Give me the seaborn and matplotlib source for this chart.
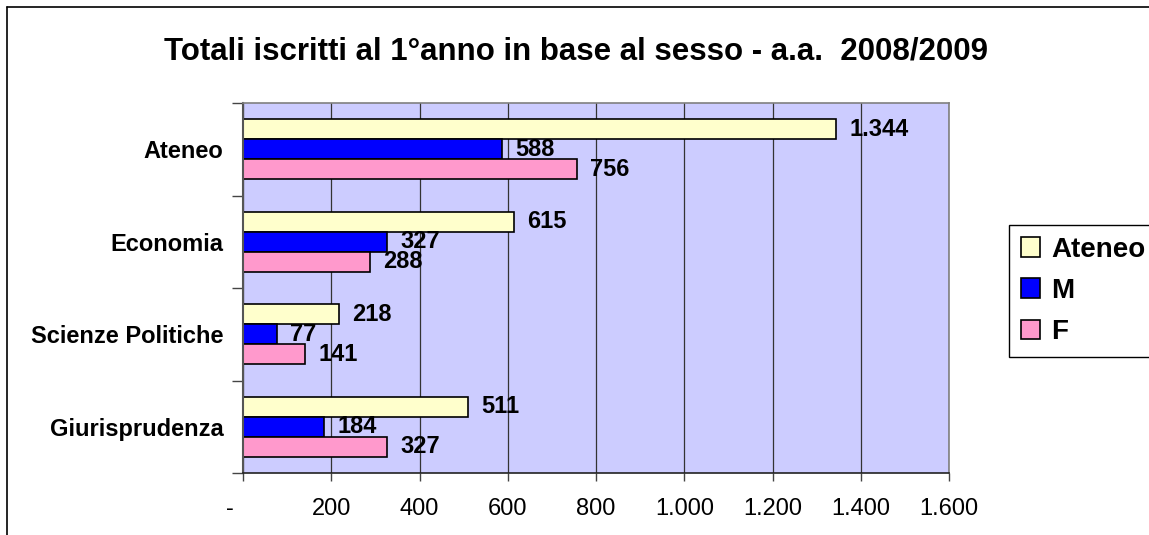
import numpy as np
import pandas as pd
import matplotlib
matplotlib.use("Agg")
import matplotlib.pyplot as plt
import seaborn as sns
from matplotlib.patches import Patch
from matplotlib.lines import Line2D
from matplotlib.ticker import FuncFormatter

# Data
categorie = ["Ateneo", "Economia", "Scienze Politiche", "Giurisprudenza"]
serie = ["Ateneo", "M", "F"]
totale = [1344, 615, 218, 511]
maschi = [588, 327, 77, 184]
femmine = [756, 288, 141, 327]
colori = ["#FFFFCC", "#0000FF", "#FF99CC"]
x_ticks = [0, 200, 400, 600, 800, 1000, 1200, 1400, 1600]

df = pd.DataFrame({
    "Facolta": categorie * 3,
    "Serie": [s for s in serie for _ in categorie],
    "Iscritti": totale + maschi + femmine,
})

sns.set_style("white")
plt.rcParams["font.family"] = ["Liberation Sans", "DejaVu Sans"]
plt.rcParams["text.color"] = "black"
plt.rcParams["xtick.color"] = "black"
plt.rcParams["ytick.color"] = "black"
plt.rcParams["axes.labelcolor"] = "black"


def punto_migliaia(v, pos=None):
    if v == 0:
        return "-    "
    return f"{v:,.0f}".replace(",", ".")


W, H = 1149, 535
fig = plt.figure(figsize=(W / 100, H / 100), dpi=100)
ax = fig.add_axes([243 / W, 1 - 473 / H, (949 - 243) / W, (473 - 103) / H])
ax.set_facecolor("#CCCCFF")

sns.barplot(
    data=df,
    y="Facolta",
    x="Iscritti",
    hue="Serie",
    hue_order=serie,
    order=categorie,
    palette=colori,
    orient="h",
    width=0.65,
    edgecolor="black",
    linewidth=1.2,
    saturation=1,
    legend=False,
    ax=ax,
)

for cont in ax.containers:
    ax.bar_label(cont, fmt=lambda v: f"{v:,.0f}".replace(",", "."),
                 padding=9.5, fontsize=17, fontweight="bold", color="black")

# Axes
ax.set_xlim(0, 1600)
ax.set_ylim(3.5, -0.5)
ax.set_xticks(x_ticks)
ax.xaxis.set_major_formatter(FuncFormatter(punto_migliaia))
ax.set_xlabel("")
ax.set_ylabel("")
ax.set_axisbelow(True)
ax.grid(axis="x", color="#333333", linewidth=0.9)
ax.grid(axis="y", visible=False)

ax.set_yticks([-0.5, 0.5, 1.5, 2.5, 3.5], minor=True)
ax.tick_params(axis="y", which="major", length=0, pad=14, labelsize=17, labelcolor="black")
ax.tick_params(axis="y", which="minor", length=8, width=1, color="#444444", direction="out", left=True)
ax.tick_params(axis="x", which="major", length=6, width=1, color="#444444", direction="out",
               bottom=True, pad=12, labelsize=17, labelcolor="black")
for lab in ax.get_yticklabels():
    lab.set_fontweight("bold")

for side in ["top", "right"]:
    ax.spines[side].set_visible(True)
    ax.spines[side].set_color("#808080")
    ax.spines[side].set_linewidth(1.2)
ax.spines["left"].set_color("#555555")
ax.spines["left"].set_linewidth(1.5)
ax.spines["bottom"].set_color("#222222")
ax.spines["bottom"].set_linewidth(1.2)

# Legend
handles = [Patch(facecolor=c, edgecolor="black", linewidth=1.2) for c in colori]
leg = fig.legend(
    handles, serie,
    loc="upper left",
    bbox_to_anchor=(1009 / W, 1 - 225 / H),
    bbox_transform=fig.transFigure,
    prop={"weight": "bold", "size": 20},
    frameon=True,
    fancybox=False,
    framealpha=1,
    edgecolor="black",
    borderaxespad=0,
    borderpad=0.42,
    handlelength=0.7,
    handleheight=0.7,
    handletextpad=0.4,
    labelspacing=0.55,
)
leg.get_frame().set_linewidth(1.0)

# Title
fig.text(576 / W, 1 - 60 / H, "Totali iscritti al 1°anno in base al sesso - a.a.  2008/2009",
         ha="center", va="baseline", fontsize=22.5, fontweight="bold", color="black")

# Outer chart border
fig.add_artist(Line2D([7 / W, 7 / W], [0, 1 - 7 / H], color="black", linewidth=1.2))
fig.add_artist(Line2D([7 / W, 1], [1 - 7 / H, 1 - 7 / H], color="black", linewidth=1.2))

fig.savefig("out.png", dpi=100)
